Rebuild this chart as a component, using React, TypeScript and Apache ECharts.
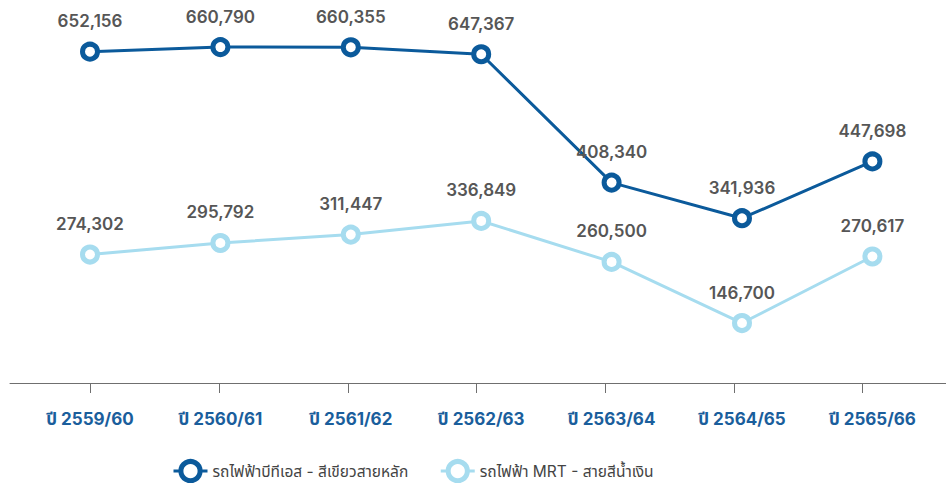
import React, { useEffect, useRef } from "react";
import * as echarts from "echarts";

const categories = ["ปี 2559/60", "ปี 2560/61", "ปี 2561/62", "ปี 2562/63", "ปี 2563/64", "ปี 2564/65", "ปี 2565/66"];
const btsName = "รถไฟฟ้าบีทีเอส - สีเขียวสายหลัก";
const mrtName = "รถไฟฟ้า MRT - สายสีน้ำเงิน";
const btsValues = [652156, 660790, 660355, 647367, 408340, 341936, 447698];
const mrtValues = [274302, 295792, 311447, 336849, 260500, 146700, 270617];
const tickPositions = [0, 1, 2, 3, 4, 5, 6];

const FONT = "Inter, 'Noto Sans', 'Noto Sans Thai', 'DejaVu Sans', sans-serif";
const BTS_COLOR = "#0b5a9b";
const MRT_COLOR = "#a6dcef";

export default function App() {
  const ref = useRef<HTMLDivElement>(null);
  useEffect(() => {
    if (!ref.current) return;
    const chart = echarts.init(ref.current, null, { renderer: "svg" });
    const labelCfg = {
      show: true,
      position: "top",
      distance: 12,
      color: "#565656",
      fontSize: 17,
      fontWeight: 600,
      fontFamily: FONT,
      formatter: (p: any) => Number(p.value).toLocaleString("en-US"),
    };
    chart.setOption({
      animation: false,
      grid: [
        { left: 24.8, right: 8.4, top: 26, bottom: 100, containLabel: false },
        { left: 10, right: 0, top: 26, bottom: 100, containLabel: false },
      ],
      legend: {
        left: 167,
        top: 454,
        itemWidth: 34,
        itemHeight: 24,
        itemGap: 31,
        itemStyle: { borderWidth: 5 },
        lineStyle: { width: 3 },
        textStyle: { color: "#444444", fontSize: 15.5, fontFamily: FONT },
        data: [btsName, mrtName],
      },
      xAxis: [
        {
          type: "category",
          gridIndex: 0,
          data: categories,
          boundaryGap: true,
          axisLine: { show: false },
          axisTick: { show: false },
          axisLabel: {
            margin: 27,
            color: "#1a5e9c",
            fontSize: 17,
            fontWeight: 700,
            fontFamily: FONT,
          },
        },
        {
          type: "value",
          gridIndex: 1,
          min: -0.627,
          max: 6.647,
          axisLine: { show: true, lineStyle: { color: "#6f6f6f", width: 1 } },
          axisTick: { show: true, length: 10, customValues: tickPositions, lineStyle: { color: "#6f6f6f", width: 1 } },
          axisLabel: { show: false },
          splitLine: { show: false },
        },
      ],
      yAxis: [
        { type: "value", gridIndex: 0, min: 35000, max: 700000, show: false, splitLine: { show: false } },
        { type: "value", gridIndex: 1, min: 0, max: 1, show: false, splitLine: { show: false } },
      ],
      series: [
        {
          name: btsName,
          type: "line",
          xAxisIndex: 0,
          yAxisIndex: 0,
          data: btsValues,
          symbol: "circle",
          symbolSize: 15,
          lineStyle: { color: BTS_COLOR, width: 3 },
          itemStyle: { color: "#ffffff", borderColor: BTS_COLOR, borderWidth: 5 },
          label: labelCfg,
          z: 3,
        },
        {
          name: mrtName,
          type: "line",
          xAxisIndex: 0,
          yAxisIndex: 0,
          data: mrtValues,
          symbol: "circle",
          symbolSize: 15,
          lineStyle: { color: MRT_COLOR, width: 3 },
          itemStyle: { color: "#ffffff", borderColor: MRT_COLOR, borderWidth: 5 },
          label: labelCfg,
          z: 2,
        },
      ],
    });
    return () => chart.dispose();
  }, []);
  return <div ref={ref} style={{ width: 946, height: 483, position: "absolute", left: 0, top: 0 }} />;
}
